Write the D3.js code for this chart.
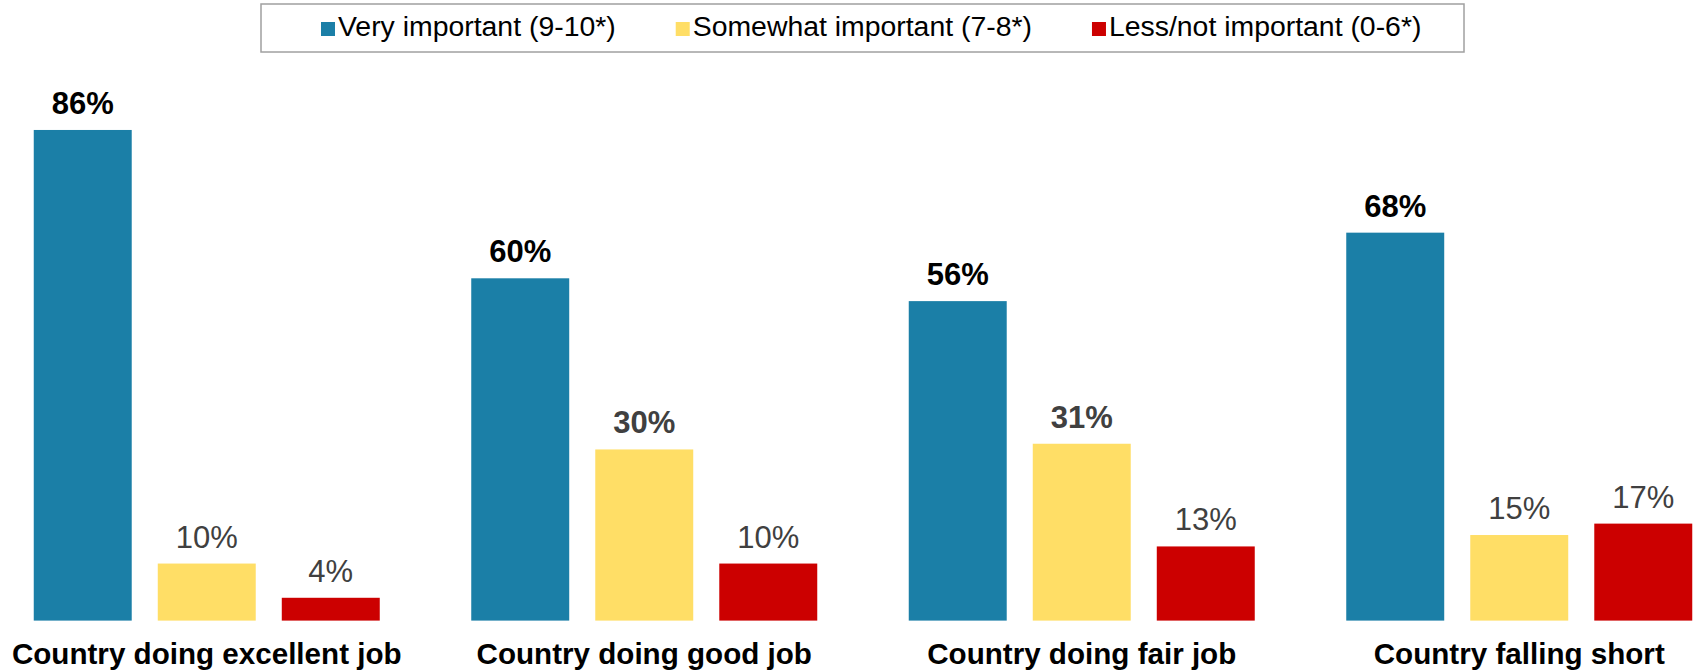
<!DOCTYPE html>
<html>
<head>
<meta charset="utf-8">
<script src="https://cdn.jsdelivr.net/npm/d3@7"></script>
<style>
  body { margin: 0; background: #fff; }
  text { font-family: "Liberation Sans", Arial, sans-serif; }
</style>
</head>
<body>
<div class="chart"></div>
<script>
var width = 1698;
var height = 671;

var categories = ['Country doing excellent job', 'Country doing good job', 'Country doing fair job', 'Country falling short'];
var seriesNames = ['Very important (9-10*)', 'Somewhat important (7-8*)', 'Less/not important (0-6*)'];
var veryImportant = [86, 60, 56, 68];
var somewhatImportant = [10, 30, 31, 15];
var lessImportant = [4, 10, 13, 17];

var seriesValues = [veryImportant, somewhatImportant, lessImportant];
var colors = ['#1b7fa7', '#ffde66', '#cc0000'];

var svg = d3.select('.chart')
	.append('svg')
	.attr('width', width)
	.attr('height', height);

var y = d3.scaleLinear().domain([0, 100]).range([620.6, 50.1]);

var x0 = d3.scaleBand().domain(categories).range([-12, 1738]);
var x1 = d3.scaleBand().domain(seriesNames)
	.range([45.75, x0.bandwidth() - 45.75])
	.paddingInner(0.21);

// flatten into one row per bar
var rows = [];
categories.forEach(function(c, i){
	seriesNames.forEach(function(s, j){
		rows.push({cat: c, series: s, idx: j, value: seriesValues[j][i]});
	});
});

var groups = svg.selectAll('.group')
	.data(categories)
	.enter().append('g')
	.attr('class', 'group')
	.attr('transform', function(d){ return 'translate(' + x0(d) + ',0)'; });

groups.selectAll('rect')
	.data(function(c){ return rows.filter(function(r){ return r.cat === c; }); })
	.enter().append('rect')
	.attr('x', function(d){ return x1(d.series); })
	.attr('y', function(d){ return y(d.value); })
	.attr('width', x1.bandwidth())
	.attr('height', function(d){ return y(0) - y(d.value); })
	.attr('fill', function(d){ return colors[d.idx]; });

groups.selectAll('.val')
	.data(function(c){ return rows.filter(function(r){ return r.cat === c; }); })
	.enter().append('text')
	.attr('class', 'val')
	.attr('x', function(d){ return x1(d.series) + x1.bandwidth() / 2; })
	.attr('y', function(d){ return y(d.value) - 16; })
	.attr('text-anchor', 'middle')
	.attr('font-size', '31px')
	.attr('font-weight', function(d){
		return (d.idx === 0 || d.value >= 30) ? 'bold' : 'normal';
	})
	.attr('fill', function(d){ return d.idx === 0 ? '#000' : '#404040'; })
	.text(function(d){ return d.value + '%'; });

// category labels
svg.selectAll('.cat')
	.data(categories)
	.enter().append('text')
	.attr('class', 'cat')
	.attr('x', function(d){ return x0(d) + x0.bandwidth() / 2; })
	.attr('y', 664)
	.attr('text-anchor', 'middle')
	.attr('font-size', '29.6px')
	.attr('font-weight', 'bold')
	.attr('fill', '#000')
	.text(function(d){ return d; });

// legend
var legend = svg.append('g');
legend.append('rect')
	.attr('x', 261)
	.attr('y', 4)
	.attr('width', 1203)
	.attr('height', 48)
	.attr('fill', '#fff')
	.attr('stroke', '#a0a0a0')
	.attr('stroke-width', 1.5);

var lx = 321;
seriesNames.forEach(function(s, j){
	legend.append('rect')
		.attr('x', lx)
		.attr('y', 22)
		.attr('width', 14)
		.attr('height', 14)
		.attr('fill', colors[j]);
	var t = legend.append('text')
		.attr('x', lx + 17)
		.attr('y', 36)
		.attr('font-size', '28.4px')
		.attr('fill', '#000')
		.text(s);
	lx = lx + 17 + t.node().getComputedTextLength() + 60;
});
</script>
</body>
</html>
